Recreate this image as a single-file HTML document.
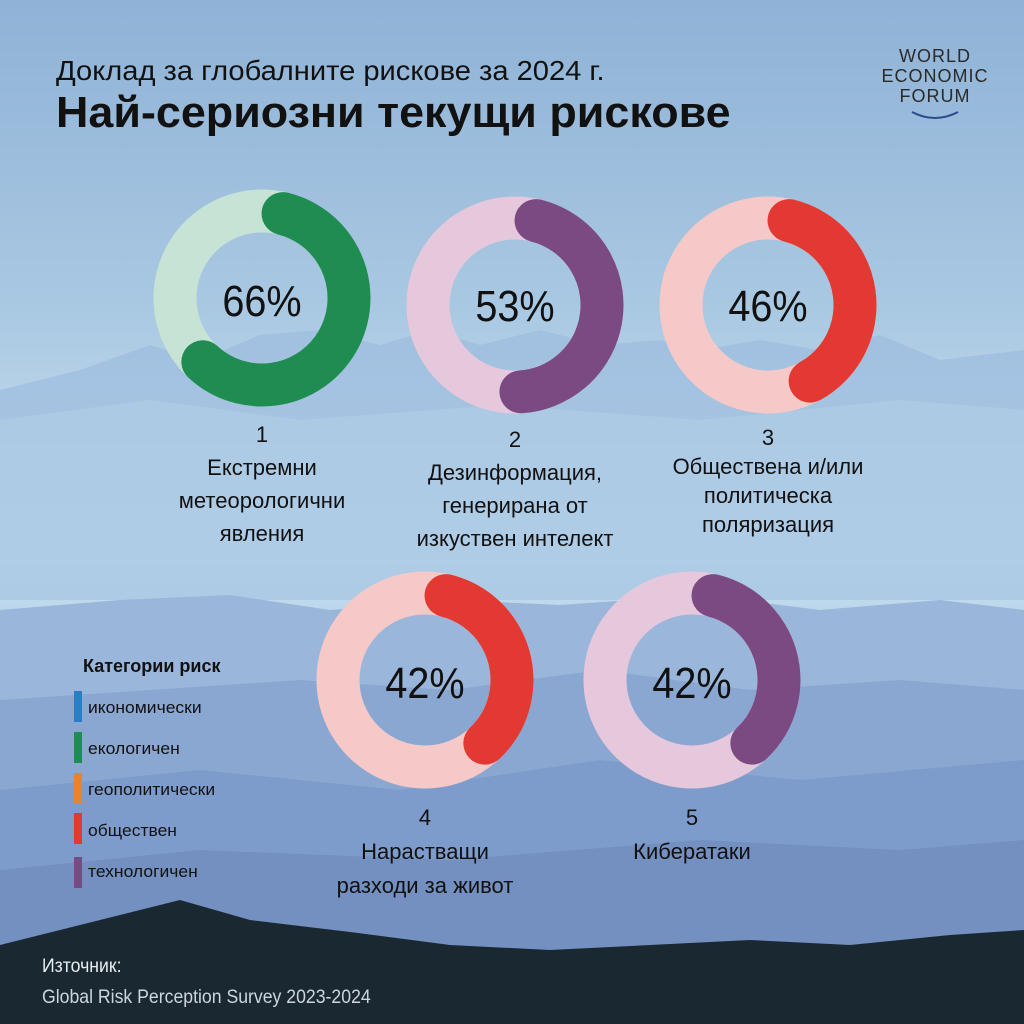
<!DOCTYPE html>
<html><head><meta charset="utf-8"><style>
body{margin:0;width:1024px;height:1024px;overflow:hidden;font-family:"Liberation Sans",sans-serif}
svg{display:block}
.c{font-family:"Liberation Sans",sans-serif}
</style></head><body>
<svg width="1024" height="1024" viewBox="0 0 1024 1024" xmlns="http://www.w3.org/2000/svg">
<defs>
<linearGradient id="sky" x1="0" y1="0" x2="0" y2="1">
<stop offset="0" stop-color="#8fb2d6"/><stop offset="0.3" stop-color="#a9c8e2"/><stop offset="0.55" stop-color="#cfe5f1"/><stop offset="0.6" stop-color="#b9d5ea"/><stop offset="1" stop-color="#7f9fc9"/>
</linearGradient>
</defs>
<rect width="1024" height="1024" fill="url(#sky)"/>
<path d="M0 390 L80 370 L150 345 L200 360 L260 335 L320 330 L380 345 L430 330 L480 345 L540 330 L600 345 L660 340 L700 350 L760 340 L820 350 L880 335 L940 360 L1024 350 L1024 600 L0 600Z" fill="#9dbcde" opacity="0.7"/>
<path d="M0 420 L150 400 L300 420 L500 405 L700 420 L900 400 L1024 410 L1024 600 L0 600Z" fill="#b3cfe8" opacity="0.6"/>
<path d="M0 610 L120 600 L230 595 L330 610 L450 600 L560 605 L700 595 L820 610 L940 600 L1024 610 L1024 1024 L0 1024Z" fill="#9ab6da"/>
<path d="M0 700 L150 690 L300 680 L450 690 L600 670 L750 690 L900 680 L1024 690 L1024 1024 L0 1024Z" fill="#8aa7d2"/>
<path d="M0 790 L200 770 L400 790 L600 760 L800 780 L1024 760 L1024 1024 L0 1024Z" fill="#7e9ccb"/>
<path d="M0 870 L200 850 L450 860 L700 840 L900 850 L1024 840 L1024 1024 L0 1024Z" fill="#7390c0"/>
<path d="M0 945 L60 930 L120 915 L180 900 L250 920 L350 932 L450 945 L550 950 L650 945 L750 940 L850 945 L950 935 L1024 930 L1024 1024 L0 1024Z" fill="#1a2832"/>
<g class="c" fill="#111">
<text x="56" y="80" font-size="28" transform="scale(1.04,1)" transform-origin="56 80">Доклад за глобалните рискове за 2024 г.</text>
<text x="56" y="127" font-size="44" font-weight="bold" transform="scale(1.02,1)" transform-origin="56 127">Най-сериозни текущи рискове</text>
</g>
<g class="c" fill="#2a2a2a" font-size="18" text-anchor="middle" letter-spacing="1">
<text x="935" y="62">WORLD</text><text x="935" y="82">ECONOMIC</text><text x="935" y="102">FORUM</text>
<path d="M912 112 Q935 124 958 112" stroke="#2a4a8a" stroke-width="2" fill="none"/>
</g>
<g fill="none" stroke-width="43">
<circle cx="262" cy="298" r="87" stroke="#c6e3d6"/>
<circle cx="262" cy="298" r="87" stroke="#1f8c52" stroke-linecap="round" stroke-dasharray="317 1000" transform="rotate(-76 262 298)"/>
<circle cx="515" cy="305" r="87" stroke="#e6c8dc"/>
<circle cx="515" cy="305" r="87" stroke="#7b4a83" stroke-linecap="round" stroke-dasharray="246 1000" transform="rotate(-76 515 305)"/>
<circle cx="768" cy="305" r="87" stroke="#f4c9c8"/>
<circle cx="768" cy="305" r="87" stroke="#e23a33" stroke-linecap="round" stroke-dasharray="208 1000" transform="rotate(-76 768 305)"/>
<circle cx="425" cy="680" r="87" stroke="#f4c9c8"/>
<circle cx="425" cy="680" r="87" stroke="#e23a33" stroke-linecap="round" stroke-dasharray="186 1000" transform="rotate(-76 425 680)"/>
<circle cx="692" cy="680" r="87" stroke="#e6c8dc"/>
<circle cx="692" cy="680" r="87" stroke="#7b4a83" stroke-linecap="round" stroke-dasharray="186 1000" transform="rotate(-76 692 680)"/>
</g>
<g class="c" fill="#111" font-size="44" text-anchor="middle">
<text x="262" y="316" transform="scale(0.9,1)" transform-origin="262 316">66%</text>
<text x="515" y="321" transform="scale(0.9,1)" transform-origin="515 321">53%</text>
<text x="768" y="321" transform="scale(0.9,1)" transform-origin="768 321">46%</text>
<text x="425" y="698" transform="scale(0.9,1)" transform-origin="425 698">42%</text>
<text x="692" y="698" transform="scale(0.9,1)" transform-origin="692 698">42%</text>
</g>
<g class="c" fill="#111" font-size="22" text-anchor="middle">
<g transform="translate(262 0)"><text x="0" y="442">1</text><text x="0" y="475">Екстремни</text><text x="0" y="508">метеорологични</text><text x="0" y="541">явления</text></g>
<g transform="translate(515 0)"><text x="0" y="447">2</text><text x="0" y="480">Дезинформация,</text><text x="0" y="513">генерирана от</text><text x="0" y="546">изкуствен интелект</text></g>
<g transform="translate(768 0)"><text x="0" y="445">3</text><text x="0" y="474">Обществена и/или</text><text x="0" y="503">политическа</text><text x="0" y="532">поляризация</text></g>
<g transform="translate(425 0)"><text x="0" y="825">4</text><text x="0" y="859">Нарастващи</text><text x="0" y="893">разходи за живот</text></g>
<g transform="translate(692 0)"><text x="0" y="825">5</text><text x="0" y="859">Кибератаки</text></g>
</g>
<g class="c" fill="#111">
<text x="83" y="672" font-size="18" font-weight="bold" transform="scale(1.0,1)" transform-origin="83 672">Категории риск</text>
<g font-size="17" transform="translate(88 0) scale(1.03,1)">
<text x="0" y="713">икономически</text><text x="0" y="754">екологичен</text><text x="0" y="795">геополитически</text><text x="0" y="836">обществен</text><text x="0" y="877">технологичен</text>
</g>
<rect x="74" y="691" width="8" height="31" fill="#2a7fc4"/>
<rect x="74" y="732" width="8" height="31" fill="#1f8c52"/>
<rect x="74" y="773" width="8" height="31" fill="#e8832f"/>
<rect x="74" y="813" width="8" height="31" fill="#e23a33"/>
<rect x="74" y="857" width="8" height="31" fill="#7b4a83"/>
</g>
<g class="c" fill="#e8edf0" font-size="19" transform="translate(42 0) scale(0.93,1)">
<text x="0" y="972">Източник:</text><text x="0" y="1003" fill="#cdd6dc">Global Risk Perception Survey 2023-2024</text>
</g>
</svg>
</body></html>
